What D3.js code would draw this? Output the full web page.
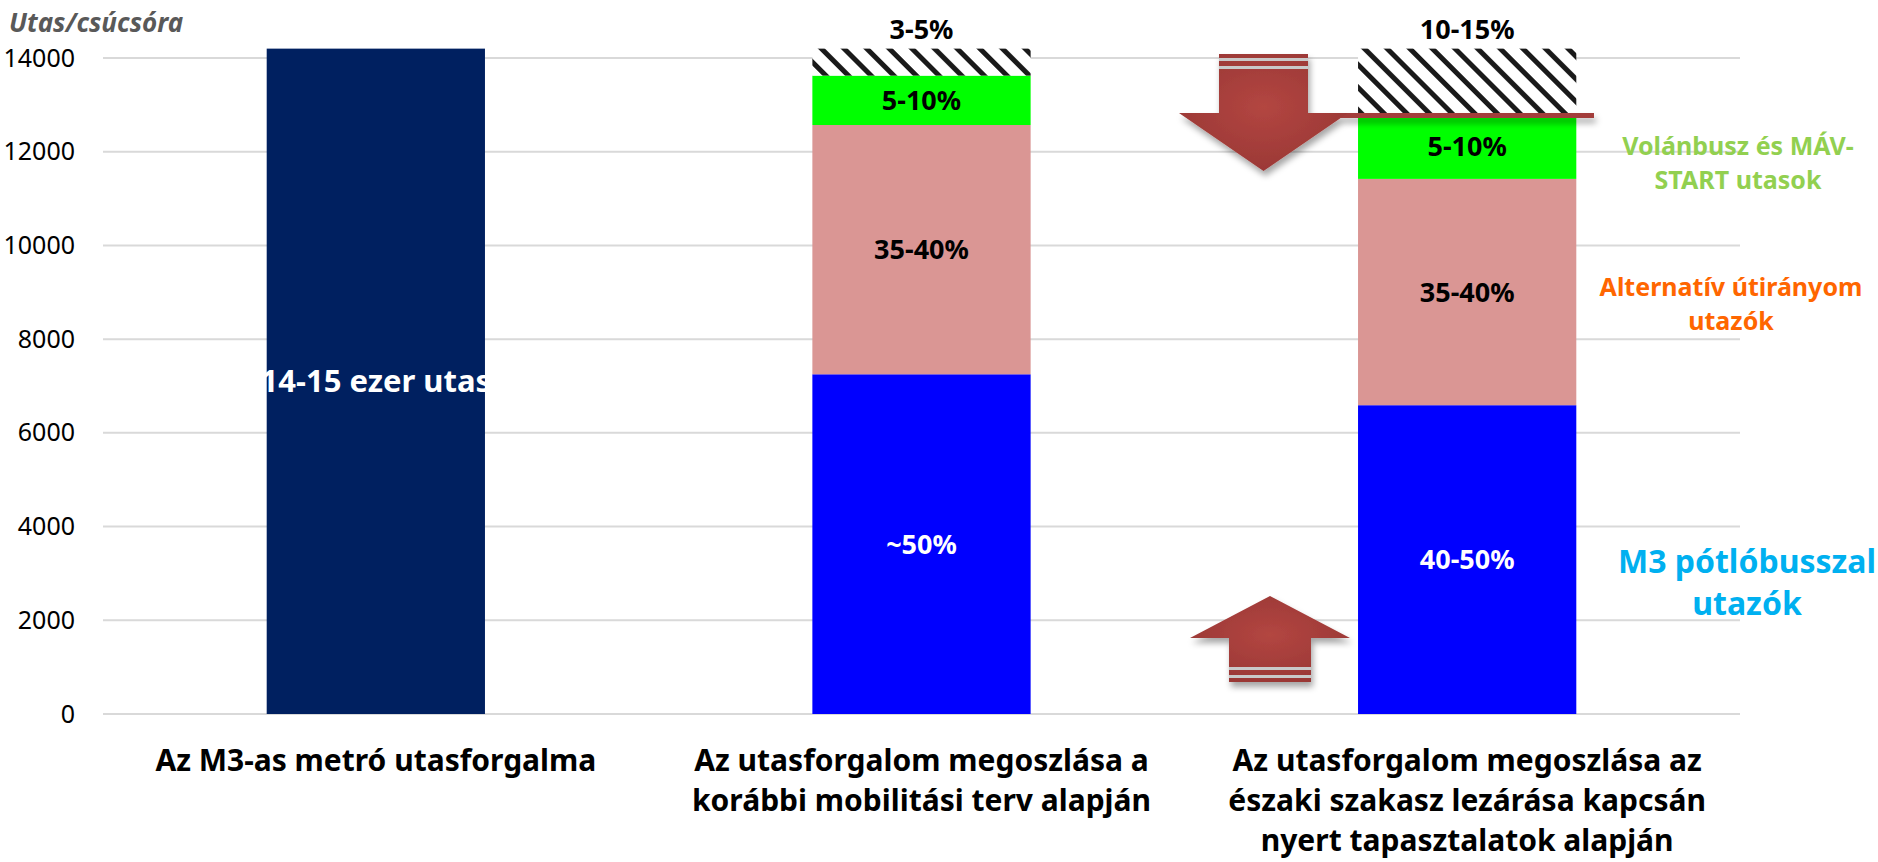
<!DOCTYPE html>
<html>
<head>
<meta charset="utf-8">
<script src="https://cdn.jsdelivr.net/npm/d3@7"></script>
<style>
  body { margin: 0; background: #fff; }
  svg text { font-family: "Noto Sans", "Open Sans", sans-serif; }
</style>
</head>
<body>
<div id="chart"></div>
<script>
// chart data
var categories = ['c1', 'c2', 'c3'];
var categoryLines = [
  ['Az M3-as metró utasforgalma'],
  ['Az utasforgalom megoszlása a', 'korábbi mobilitási terv alapján'],
  ['Az utasforgalom megoszlása az', 'északi szakasz lezárása kapcsán', 'nyert tapasztalatok alapján']
];
var seriesKeys = ['metro', 'potlo', 'alter', 'volan', 'egyeb'];
var metroValues = [14200, 0, 0];
var potloValues = [0, 7250, 6590];
var alterValues = [0, 5320, 4830];
var volanValues = [0, 1054, 1365];
var egyebValues = [0, 576, 1415];
var segmentLabels = {
  metro: ['14-15 ezer utas', '', ''],
  potlo: ['', '~50%', '40-50%'],
  alter: ['', '35-40%', '35-40%'],
  volan: ['', '5-10%', '5-10%'],
  egyeb: ['', '3-5%', '10-15%']
};
var yTicks = [0, 2000, 4000, 6000, 8000, 10000, 12000, 14000];

var colors = { metro: '#002060', potlo: '#0000ff', alter: '#da9694', volan: '#00ff00', egyeb: 'url(#hatch)' };
var labelColors = { metro: '#fff', potlo: '#fff', alter: '#000', volan: '#000', egyeb: '#000' };

var width = 1878, height = 862;
var margin = { left: 103, right: 138, top: 58, bottom: 148 };

var table = categories.map(function(c, i) {
  return { cat: c, metro: metroValues[i], potlo: potloValues[i], alter: alterValues[i], volan: volanValues[i], egyeb: egyebValues[i] };
});

var svg = d3.select('#chart').append('svg').attr('width', width).attr('height', height);
var defs = svg.append('defs');

// diagonal hatch
var pat = defs.append('pattern').attr('id', 'hatch').attr('patternUnits', 'userSpaceOnUse')
  .attr('width', 16).attr('height', 16).attr('patternTransform', 'rotate(-45)');
pat.append('rect').attr('width', 16).attr('height', 16).attr('fill', '#fff');
pat.append('rect').attr('x', 0).attr('width', 5).attr('height', 16).attr('fill', '#1a1a1a');

// arrow look
var grad = defs.append('radialGradient').attr('id', 'arrowGrad').attr('cx', '50%').attr('cy', '45%').attr('r', '60%');
grad.append('stop').attr('offset', '0%').attr('stop-color', '#b34641');
grad.append('stop').attr('offset', '100%').attr('stop-color', '#993735');
var shadow = defs.append('filter').attr('id', 'shadow').attr('x', '-20%').attr('y', '-20%').attr('width', '140%').attr('height', '150%');
shadow.append('feDropShadow').attr('dx', 2).attr('dy', 5).attr('stdDeviation', 3).attr('flood-color', '#000').attr('flood-opacity', 0.35);

var x = d3.scaleBand().domain(categories).range([margin.left, width - margin.right])
  .paddingInner(0.6).paddingOuter(0.3);
var y = d3.scaleLinear().domain([0, 14000]).range([height - margin.bottom, margin.top]);

// gridlines
svg.append('g').selectAll('line').data(yTicks).enter().append('line')
  .attr('x1', margin.left).attr('x2', width - margin.right)
  .attr('y1', function(d) { return y(d); }).attr('y2', function(d) { return y(d); })
  .attr('stroke', '#d9d9d9').attr('stroke-width', 2);

// y axis labels
var yAxis = d3.axisLeft(y).tickValues(yTicks).tickSize(0).tickPadding(0).tickFormat(d3.format('d'));
var ya = svg.append('g').attr('transform', 'translate(75,0)').call(yAxis);
ya.select('.domain').remove();
ya.selectAll('text').attr('font-size', 25).attr('fill', '#000').attr('font-family', '"Noto Sans", sans-serif');

svg.append('text').attr('x', 9).attr('y', 32).attr('font-size', 26).attr('font-weight', 'bold')
  .attr('font-style', 'italic').attr('fill', '#595959').text('Utas/csúcsóra');

var stack = d3.stack().keys(seriesKeys);
var layers = stack(table);

var gl = svg.append('g').selectAll('g').data(layers).enter().append('g')
  .attr('fill', function(d) { return colors[d.key]; });
gl.selectAll('rect').data(function(d) { return d.map(function(p, i) { p.key = d.key; p.i = i; return p; }); })
  .enter().filter(function(d) { return d[1] > d[0]; }).append('rect')
  .attr('x', function(d) { return x(d.data.cat); })
  .attr('width', x.bandwidth())
  .attr('y', function(d) { return y(d[1]); })
  .attr('height', function(d) { return y(d[0]) - y(d[1]); });

// segment labels
layers.forEach(function(layer) {
  layer.forEach(function(p, i) {
    var t = segmentLabels[layer.key][i];
    if (!t || p[1] <= p[0]) return;
    var cy = layer.key === 'egyeb' ? y(p[1]) - 19 : (y(p[0]) + y(p[1])) / 2;
    svg.append('text').attr('x', x(p.data.cat) + x.bandwidth() / 2).attr('y', cy)
      .attr('dy', '0.35em').attr('text-anchor', 'middle')
      .attr('font-size', layer.key === 'metro' ? 31 : 27).attr('font-weight', 'bold')
      .attr('fill', labelColors[layer.key]).text(t);
  });
});

// category labels, one text per line
categories.forEach(function(c, i) {
  categoryLines[i].forEach(function(line, j) {
    svg.append('text').attr('x', x(c) + x.bandwidth() / 2).attr('y', 771 + j * 40)
      .attr('text-anchor', 'middle').attr('font-size', 30).attr('font-weight', 'bold')
      .attr('fill', '#000').text(line);
  });
});

// side notes
function note(lines, cx, y0, lh, size, color) {
  lines.forEach(function(l, j) {
    svg.append('text').attr('x', cx).attr('y', y0 + j * lh).attr('text-anchor', 'middle')
      .attr('font-size', size).attr('font-weight', 'bold').attr('fill', color).text(l);
  });
}
note(['Volánbusz és MÁV-', 'START utasok'], 1738, 155, 34, 25, '#92d050');
note(['Alternatív útirányom', 'utazók'], 1731, 296, 34, 25, '#ff6600');
note(['M3 pótlóbusszal', 'utazók'], 1747, 573, 42, 32, '#00b0f0');

// arrows
var ag = svg.append('g').attr('filter', 'url(#shadow)');
ag.append('rect').attr('x', 1330).attr('y', 113).attr('width', 264).attr('height', 5).attr('fill', '#a33d3b');
function arrow(cx, shaftW, headW, yTip, yBase, yEnd, dir) {
  var hs = shaftW / 2, hh = headW / 2;
  var g = ag.append('g');
  var pts = [[cx, yTip], [cx + hh, yBase], [cx + hs, yBase], [cx + hs, yEnd], [cx - hs, yEnd], [cx - hs, yBase], [cx - hh, yBase]];
  g.append('path').attr('d', d3.line()(pts) + 'Z').attr('fill', 'url(#arrowGrad)');
  // pale stripes near the shaft end
  [5, 13].forEach(function(o) {
    g.append('rect').attr('x', cx - hs).attr('width', shaftW).attr('height', 3)
      .attr('y', dir > 0 ? yEnd + o - 1 : yEnd - o - 2).attr('fill', '#c9c9c9');
  });
}
arrow(1263.5, 89, 169, 171, 113, 54, 1);
arrow(1270, 82, 160, 596, 638, 682, -1);
</script>
</body>
</html>
